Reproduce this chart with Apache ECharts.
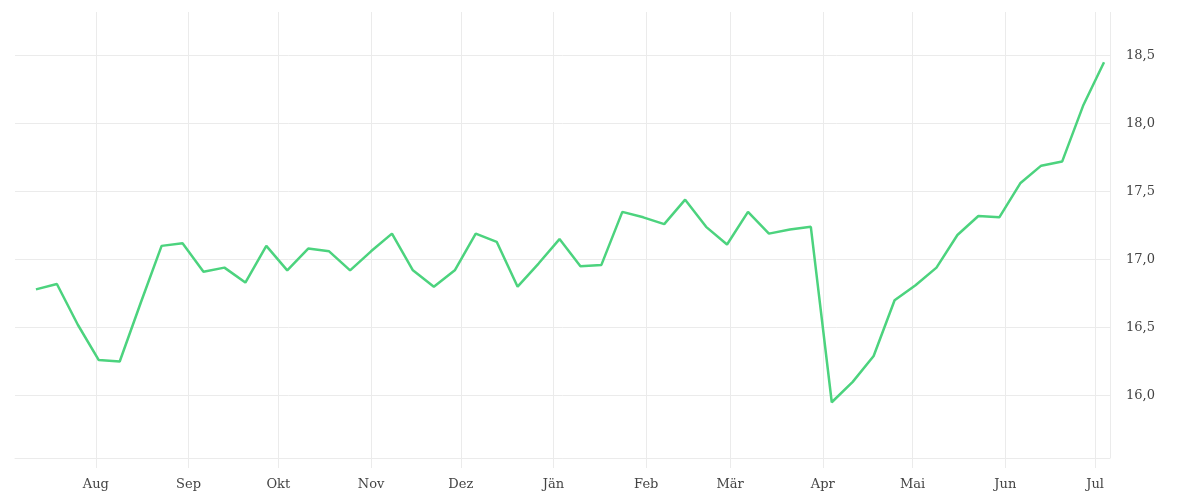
<!DOCTYPE html>
<html>
<head>
<meta charset="utf-8">
<script src="https://cdn.jsdelivr.net/npm/echarts@6/dist/echarts.min.js"></script>
<style>
  html, body { margin: 0; padding: 0; background: #fff; }
  #chart { width: 1200px; height: 500px; }
</style>
</head>
<body>
<div id="chart"></div>
<script>
// weekly dates
var dates = [
    '2021-07-12', '2021-07-19', '2021-07-26', '2021-08-02', '2021-08-09', '2021-08-16',
    '2021-08-23', '2021-08-30', '2021-09-06', '2021-09-13', '2021-09-20', '2021-09-27',
    '2021-10-04', '2021-10-11', '2021-10-18', '2021-10-25', '2021-11-01', '2021-11-08',
    '2021-11-15', '2021-11-22', '2021-11-29', '2021-12-06', '2021-12-13', '2021-12-20',
    '2021-12-27', '2022-01-03', '2022-01-10', '2022-01-17', '2022-01-24', '2022-01-31',
    '2022-02-07', '2022-02-14', '2022-02-21', '2022-02-28', '2022-03-07', '2022-03-14',
    '2022-03-21', '2022-03-28', '2022-04-04', '2022-04-11', '2022-04-18', '2022-04-25',
    '2022-05-02', '2022-05-09', '2022-05-16', '2022-05-23', '2022-05-30', '2022-06-06',
    '2022-06-13', '2022-06-20', '2022-06-27', '2022-07-04'
];
var values = [
    16.78, 16.82, 16.52, 16.26, 16.25, 16.68, 17.10, 17.12, 16.91, 16.94, 16.83, 17.10,
    16.92, 17.08, 17.06, 16.92, 17.06, 17.19, 16.92, 16.80, 16.92, 17.19, 17.13, 16.80,
    16.97, 17.15, 16.95, 16.96, 17.35, 17.31, 17.26, 17.44, 17.24, 17.11, 17.35, 17.19,
    17.22, 17.24, 15.95, 16.10, 16.29, 16.70, 16.81, 16.94, 17.18, 17.32, 17.31, 17.56,
    17.69, 17.72, 18.13, 18.45
];
var monthNames = ['Jän', 'Feb', 'Mär', 'Apr', 'Mai', 'Jun', 'Jul', 'Aug', 'Sep', 'Okt', 'Nov', 'Dez'];

var gridColor = '#ebebeb';
var textColor = '#444';
var fontFamily = 'DejaVu Serif';

var chart = echarts.init(document.getElementById('chart'));
var option = {
    animation: false,
    grid: {
        left: 15,
        right: 90,
        top: 12,
        bottom: 42
    },
    xAxis: {
        type: 'time',
        min: '2021-07-05',
        max: '2022-07-06',
        splitNumber: 12,
        axisLine: { show: true, lineStyle: { color: gridColor } },
        axisTick: { show: true, length: 10, lineStyle: { color: gridColor } },
        splitLine: { show: true, showMinLine: false, lineStyle: { color: gridColor } },
        axisLabel: {
            showMinLabel: false,
            showMaxLabel: false,
            color: textColor,
            fontFamily: fontFamily,
            fontSize: 13,
            margin: 20,
            formatter: function (val) {
                return monthNames[new Date(val).getMonth()];
            }
        }
    },
    yAxis: {
        type: 'value',
        position: 'right',
        min: 15.54,
        max: 18.82,
        splitNumber: 6,
        axisLine: { show: false },
        axisTick: { show: false },
        splitLine: { show: true, showMaxLine: false, lineStyle: { color: gridColor } },
        axisLabel: {
            showMinLabel: false,
            showMaxLabel: false,
            color: textColor,
            fontFamily: fontFamily,
            fontSize: 13,
            margin: 16,
            padding: [4, 0, 0, 0],
            formatter: function (val) {
                return val.toFixed(1).replace('.', ',');
            }
        }
    },
    series: [
        {
            type: 'line',
            data: dates.map(function (d, i) { return [d, values[i]]; }),
            showSymbol: false,
            lineStyle: { color: '#4cd37e', width: 2.5 },
            itemStyle: { color: '#4cd37e' }
        }
    ]
};
chart.setOption(option);
</script>
</body>
</html>
